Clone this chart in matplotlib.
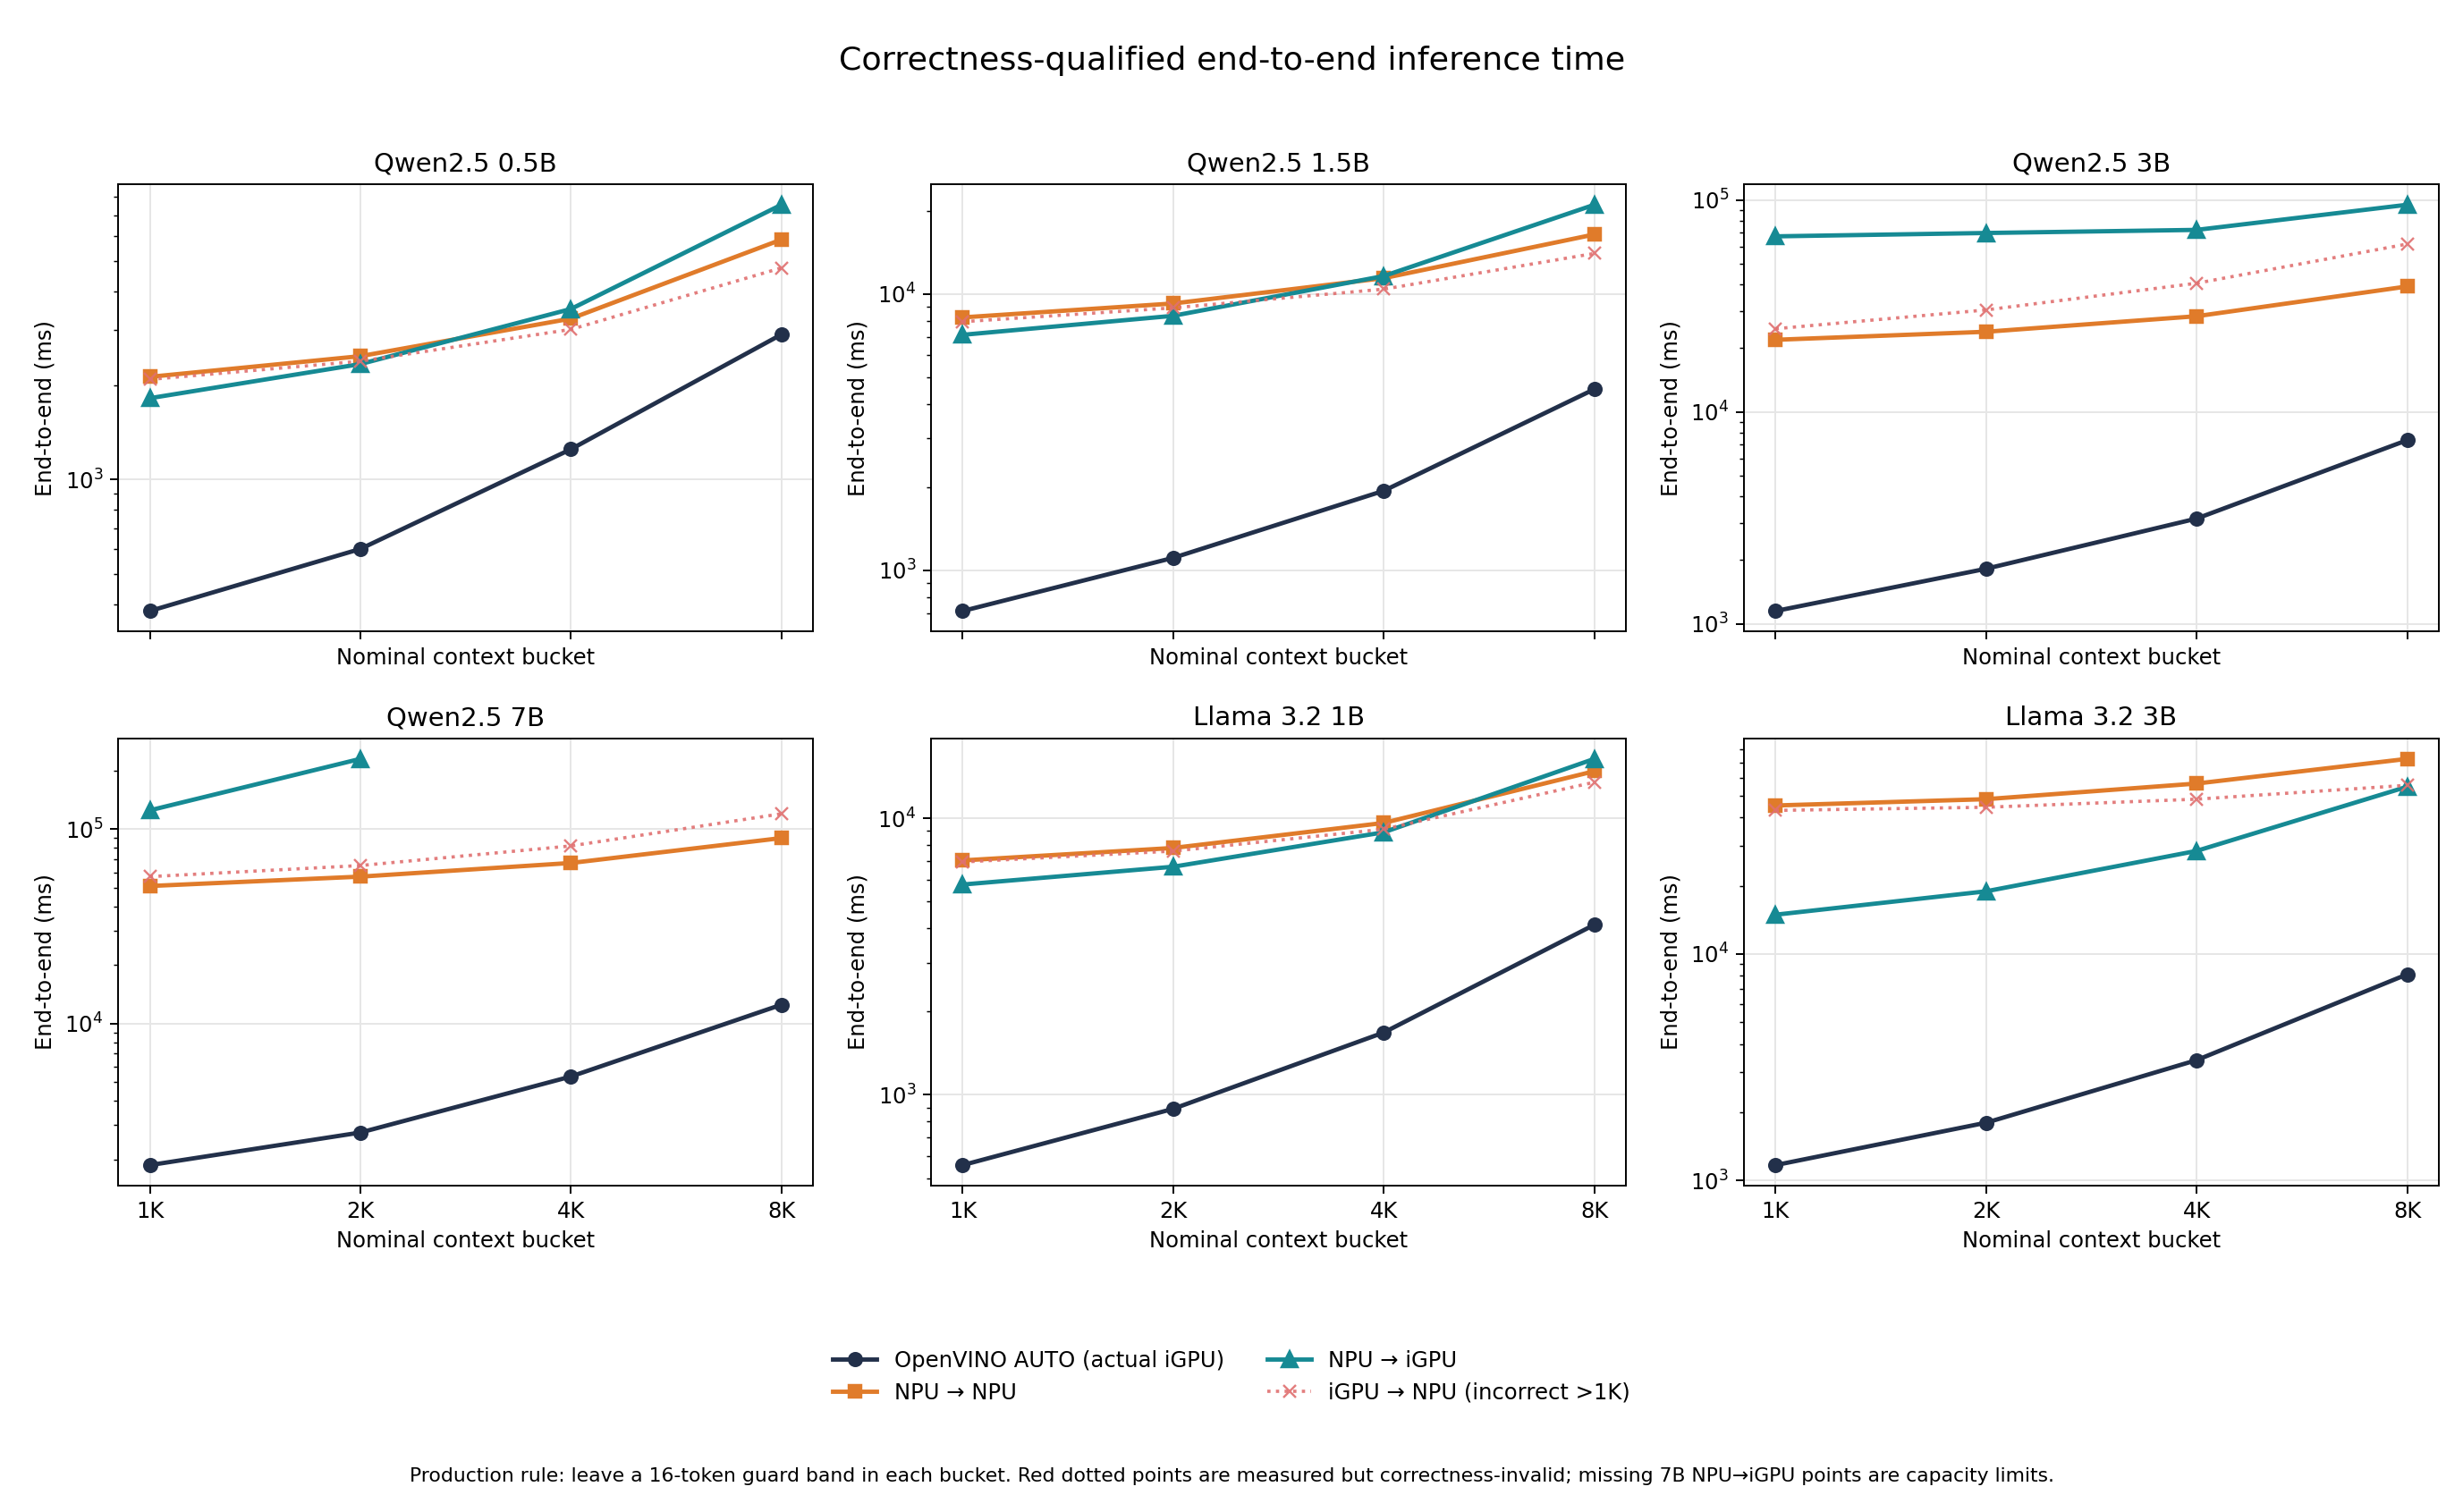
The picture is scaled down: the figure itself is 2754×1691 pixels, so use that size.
import numpy as np
import matplotlib
matplotlib.use('Agg')
import matplotlib.pyplot as plt

buckets = ['1K', '2K', '4K', '8K']
models = ['Qwen2.5 0.5B', 'Qwen2.5 1.5B', 'Qwen2.5 3B',
          'Qwen2.5 7B', 'Llama 3.2 1B', 'Llama 3.2 3B']

# end-to-end ms, per model, per bucket
auto_igpu = [
    [380, 600, 1250, 2910],
    [713, 1110, 1940, 4520],
    [1150, 1820, 3140, 7360],
    [1870, 2750, 5340, 12500],
    [557, 890, 1680, 4120],
    [1170, 1800, 3400, 8130],
]
npu_npu = [
    [2130, 2480, 3270, 5850],
    [8220, 9230, 11400, 16400],
    [21900, 23900, 28300, 39100],
    [51000, 57000, 67000, 90000],
    [7040, 7810, 9620, 14800],
    [45200, 48200, 56500, 72600],
]
npu_igpu = [
    [1820, 2340, 3510, 7560],
    [7110, 8330, 11600, 21000],
    [67400, 69900, 72300, 95000],
    [125000, 230000, None, None],
    [5760, 6680, 8900, 16400],
    [14900, 18900, 28500, 54700],
]
igpu_npu = [
    [2090, 2390, 3020, 4750],
    [7930, 8900, 10400, 14000],
    [24700, 30300, 40500, 62000],
    [57000, 65000, 82000, 120000],
    [6950, 7610, 9130, 13500],
    [43000, 44400, 48200, 55500],
]

C_AUTO = '#22304a'
C_NN = '#e07b2a'
C_NI = '#168a94'
C_IN = '#e07070'

fig, axes = plt.subplots(2, 3, figsize=(15.74, 9.663), dpi=175, sharex=True)
fig.subplots_adjust(left=0.048, right=0.99, top=0.878, bottom=0.216,
                    wspace=0.17, hspace=0.24)
x = np.arange(len(buckets))

for i, ax in enumerate(axes.flat):
    ax.plot(x, auto_igpu[i], color=C_AUTO, lw=2, marker='o', ms=6,
            label='OpenVINO AUTO (actual iGPU)')
    ax.plot(x, npu_npu[i], color=C_NN, lw=2, marker='s', ms=6, label='NPU → NPU')
    ni = np.array([np.nan if v is None else v for v in npu_igpu[i]], dtype=float)
    ax.plot(x, ni, color=C_NI, lw=2, marker='^', ms=7, label='NPU → iGPU')
    ax.plot(x, igpu_npu[i], color=C_IN, lw=1.5, ls=':', marker='x', ms=6,
            alpha=0.9, label='iGPU → NPU (incorrect >1K)')
    ax.set_yscale('log')
    ax.set_title(models[i], fontsize=12)
    ax.set_ylabel('End-to-end (ms)')
    ax.set_xlabel('Nominal context bucket')
    ax.set_xticks(x)
    ax.set_xticklabels(buckets)
    ax.tick_params(axis='x', labelbottom=(i >= 3))
    ax.grid(True, color='#e6e6e6', lw=0.8)

handles, labels = axes.flat[0].get_legend_handles_labels()
fig.legend([handles[0], handles[1], handles[2], handles[3]],
           [labels[0], labels[1], labels[2], labels[3]],
           loc='center', bbox_to_anchor=(0.5, 0.0895), ncol=2, frameon=False,
           fontsize=10)
fig.suptitle('Correctness-qualified end-to-end inference time', fontsize=15, y=0.97)
fig.text(0.5, 0.02, 'Production rule: leave a 16-token guard band in each bucket. '
         'Red dotted points are measured but correctness-invalid; missing 7B '
         'NPU→iGPU points are capacity limits.', ha='center', fontsize=9)
fig.savefig('out.png', dpi=175)
